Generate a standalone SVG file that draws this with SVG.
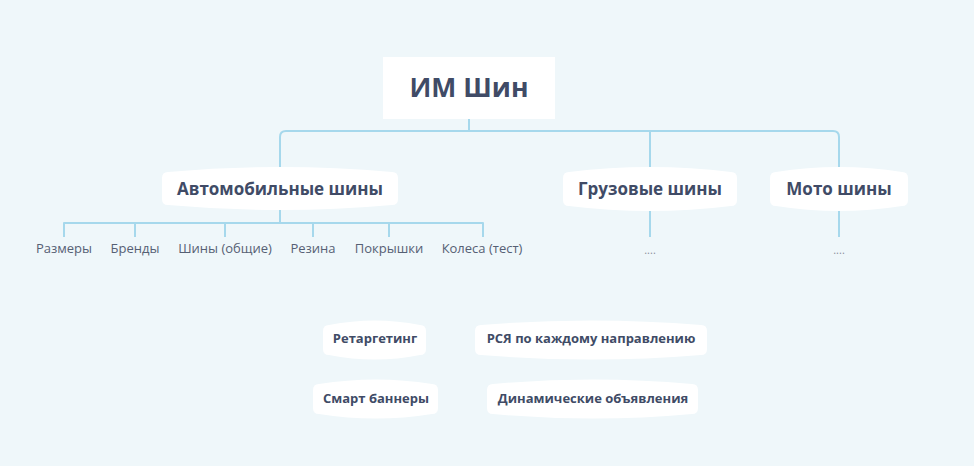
<svg xmlns="http://www.w3.org/2000/svg" width="974" height="466" viewBox="0 0 974 466">
<style>
.bg{fill:#eff7fa}
.node{fill:#ffffff}
.conn{fill:none;stroke:#a6d8ec;stroke-width:2;stroke-linecap:butt;stroke-linejoin:round}
.t{font-family:"Open Sans","Liberation Sans",sans-serif;fill:#404b66;text-anchor:middle}
.root{font-size:26.5px;font-weight:700}
.main{font-size:17px;font-weight:700}
.small{font-size:13px;font-weight:700}
.leaf{font-family:"Open Sans","Liberation Sans",sans-serif;font-size:13px;fill:#566074;text-anchor:middle}
.dots{font-family:"Open Sans","Liberation Sans",sans-serif;font-size:11px;fill:#8a909c;text-anchor:middle}
</style>
<rect class="bg" x="0" y="0" width="974" height="466"/>
<g id="connectors">
<path class="conn" d="M469,119 V131"/>
<path class="conn" d="M280,167 V137 Q280,131 286,131 H833 Q839,131 839,137 V167"/>
<path class="conn" d="M650,131 V167"/>
<path class="conn" d="M280,210 V223"/>
<path class="conn" d="M64,237 V223 H483 V237"/>
<path class="conn" d="M135,223 V237 M225,223 V237 M313,223 V237 M389,223 V237"/>
<path class="conn" d="M650,211 V237"/>
<path class="conn" d="M839,211 V237"/>
</g>
<g id="root">
<rect class="node" x="383" y="57" width="172" height="62"/>
<text class="t root" x="469" y="97">ИМ Шин</text>
</g>
<g id="auto">
<path class="node" d="M162,178 Q162,172 168,172 Q280,162 392,172 Q398,172 398,178 V199 Q398,205 392,205 Q280,215 168,205 Q162,205 162,199 Z"/>
<text class="t main" x="280" y="195">Автомобильные шины</text>
</g>
<g id="gruz">
<path class="node" d="M563,178 Q563,172 569,172 Q650,162 731,172 Q737,172 737,178 V200 Q737,206 731,206 Q650,216 569,206 Q563,206 563,200 Z"/>
<text class="t main" x="650" y="195">Грузовые шины</text>
</g>
<g id="moto">
<path class="node" d="M770,178 Q770,172 776,172 Q839,162 902,172 Q908,172 908,178 V200 Q908,206 902,206 Q839,216 776,206 Q770,206 770,200 Z"/>
<text class="t main" x="839" y="195">Мото шины</text>
</g>
<g id="leaf-razmery"><text class="leaf" x="64" y="253">Размеры</text></g>
<g id="leaf-brendy"><text class="leaf" x="135" y="253">Бренды</text></g>
<g id="leaf-shiny"><text class="leaf" x="225" y="253">Шины (общие)</text></g>
<g id="leaf-rezina"><text class="leaf" x="313" y="253">Резина</text></g>
<g id="leaf-pokryshki"><text class="leaf" x="389" y="253">Покрышки</text></g>
<g id="leaf-kolesa"><text class="leaf" x="482" y="253">Колеса (тест)</text></g>
<g id="gruz-dots"><text class="dots" x="650" y="254">....</text></g>
<g id="moto-dots"><text class="dots" x="839" y="254">....</text></g>
<g id="retarget">
<path class="node" d="M323,331 Q323,325 329,325 Q375,316 420,325 Q426,325 426,331 V349 Q426,355 420,355 Q375,364 329,355 Q323,355 323,349 Z"/>
<text class="t small" x="375" y="343">Ретаргетинг</text>
</g>
<g id="rsya">
<path class="node" d="M475,331 Q475,325 481,325 Q591,316 701,325 Q707,325 707,331 V349 Q707,355 701,355 Q591,364 481,355 Q475,355 475,349 Z"/>
<text class="t small" x="591" y="343">РСЯ по каждому направлению</text>
</g>
<g id="smart">
<path class="node" d="M313,390 Q313,384 319,384 Q376,375 432,384 Q438,384 438,390 V408 Q438,414 432,414 Q376,423 319,414 Q313,414 313,408 Z"/>
<text class="t small" x="376" y="403">Смарт баннеры</text>
</g>
<g id="dinam">
<path class="node" d="M487,390 Q487,384 493,384 Q593,375 692,384 Q698,384 698,390 V408 Q698,414 692,414 Q593,423 493,414 Q487,414 487,408 Z"/>
<text class="t small" x="593" y="403">Динамические объявления</text>
</g>
</svg>
